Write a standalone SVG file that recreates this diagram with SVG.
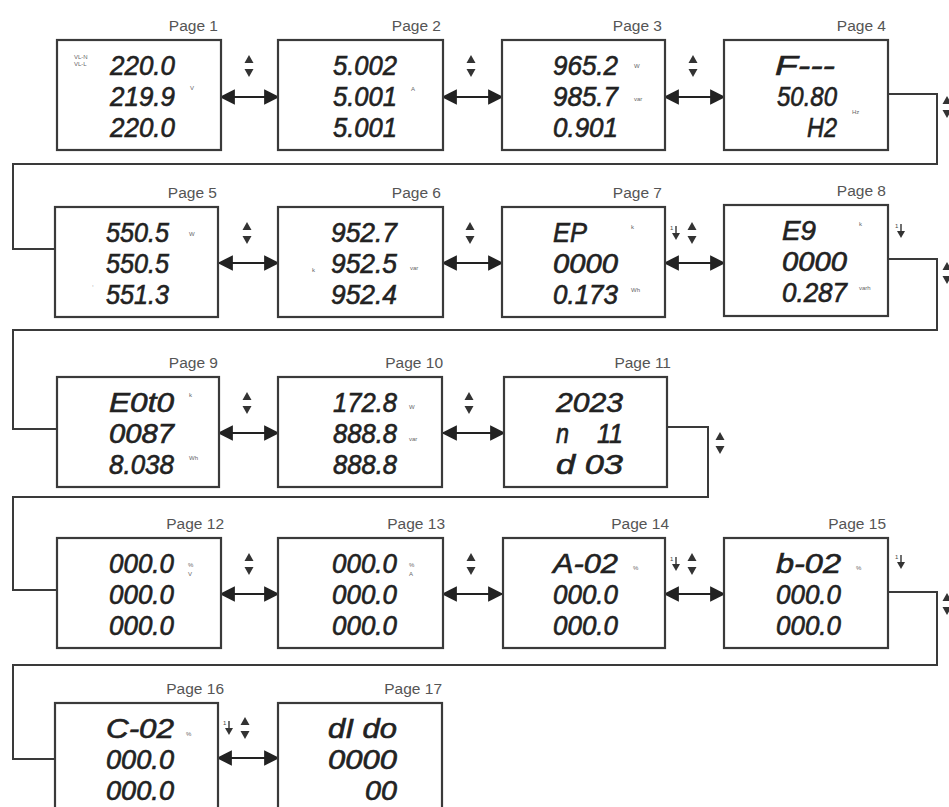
<svg xmlns="http://www.w3.org/2000/svg" width="949" height="807" viewBox="0 0 949 807">
<defs>
<style>
.box{fill:#fff;stroke:#3a3a3a;stroke-width:2.2}
.lbl{font-family:"Liberation Sans",Arial,sans-serif;font-size:15.5px;fill:#555;text-anchor:end}
.lcd{font-family:"Liberation Sans",Arial,sans-serif;font-size:27px;font-style:italic;fill:#222;stroke:#222;stroke-width:0.6}
.u{font-family:"Liberation Sans",Arial,sans-serif;font-size:6px;fill:#666}
.ln{fill:none;stroke:#3a3a3a;stroke-width:2}
.dbl{fill:none;stroke:#222;stroke-width:2.2;marker-start:url(#ah);marker-end:url(#ah)}
.ico{fill:#333}
.one{font-family:"Liberation Sans",Arial,sans-serif;font-size:6px;fill:#444}
</style>
<marker id="ah" viewBox="0 0 10 10" refX="9" refY="5" markerWidth="7.5" markerHeight="7" orient="auto-start-reverse" markerUnits="strokeWidth">
<path d="M0,0 L10,5 L0,10 z" fill="#222"/>
</marker>
<g id="ud"><path d="M0,-11 L4.5,-3 L-4.5,-3 z M0,11 L4.5,3 L-4.5,3 z"/></g>
<g id="dn"><path d="M0,-7 L0,1" stroke="#333" stroke-width="1.4"/><path d="M-4,0 L4,0 L0,7 z"/><text class="one" x="-6" y="-3">1</text></g>
</defs>

<g id="connectors">
<path class="ln" d="M888,94 H937 V164 H13 V249 H56"/>
<path class="ln" d="M888,259 H937 V330 H13 V429 H57"/>
<path class="ln" d="M667,427 H708 V497 H13 V590 H57"/>
<path class="ln" d="M888,592 H937 V665 H13 V759 H56"/>
<line class="dbl" x1="221" y1="97" x2="278" y2="97"/>
<line class="dbl" x1="443" y1="97" x2="502" y2="97"/>
<line class="dbl" x1="665" y1="97" x2="724" y2="97"/>
<line class="dbl" x1="219" y1="263" x2="278" y2="263"/>
<line class="dbl" x1="443" y1="263" x2="502" y2="263"/>
<line class="dbl" x1="665" y1="263" x2="724" y2="263"/>
<line class="dbl" x1="219" y1="433" x2="278" y2="433"/>
<line class="dbl" x1="443" y1="433" x2="504" y2="433"/>
<line class="dbl" x1="221" y1="594" x2="278" y2="594"/>
<line class="dbl" x1="443" y1="594" x2="502" y2="594"/>
<line class="dbl" x1="665" y1="594" x2="724" y2="594"/>
<line class="dbl" x1="218" y1="758" x2="278" y2="758"/>
</g>

<g id="icons" class="ico">
<use href="#ud" x="249" y="66"/><use href="#ud" x="471" y="66"/><use href="#ud" x="693" y="66"/><use href="#ud" x="947" y="107"/>
<use href="#ud" x="247" y="233"/><use href="#ud" x="470" y="233"/><use href="#ud" x="692" y="233"/><use href="#dn" x="676" y="233"/><use href="#dn" x="901" y="231"/><use href="#ud" x="947" y="273"/>
<use href="#ud" x="247" y="403"/><use href="#ud" x="469" y="403"/><use href="#ud" x="720" y="443"/>
<use href="#ud" x="249" y="564"/><use href="#ud" x="471" y="564"/><use href="#ud" x="692" y="564"/><use href="#dn" x="676" y="564"/><use href="#dn" x="901" y="562"/><use href="#ud" x="947" y="604"/>
<use href="#ud" x="245" y="728"/><use href="#dn" x="229" y="728"/>
</g>

<g id="page1"><rect class="box" x="57" y="40" width="164" height="110"/><text class="lbl" x="218" y="31">Page 1</text>
<text class="u"><tspan x="74" y="59">VL-N</tspan><tspan x="74" y="66">VL-L</tspan></text><text class="u" x="190" y="90">V</text>
<text class="lcd"><tspan x="110" y="75" textLength="65" lengthAdjust="spacingAndGlyphs">220.0</tspan><tspan x="110" y="106" textLength="65" lengthAdjust="spacingAndGlyphs">219.9</tspan><tspan x="110" y="137" textLength="65" lengthAdjust="spacingAndGlyphs">220.0</tspan></text></g>

<g id="page2"><rect class="box" x="278" y="40" width="165" height="110"/><text class="lbl" x="441" y="31">Page 2</text>
<text class="u" x="411" y="91">A</text>
<text class="lcd"><tspan x="333" y="75" textLength="64" lengthAdjust="spacingAndGlyphs">5.002</tspan><tspan x="333" y="106" textLength="64" lengthAdjust="spacingAndGlyphs">5.001</tspan><tspan x="333" y="137" textLength="64" lengthAdjust="spacingAndGlyphs">5.001</tspan></text></g>

<g id="page3"><rect class="box" x="502" y="40" width="163" height="110"/><text class="lbl" x="662" y="31">Page 3</text>
<text class="u" x="634" y="68">W</text><text class="u" x="634" y="101">var</text>
<text class="lcd"><tspan x="553" y="75" textLength="65" lengthAdjust="spacingAndGlyphs">965.2</tspan><tspan x="553" y="106" textLength="65" lengthAdjust="spacingAndGlyphs">985.7</tspan><tspan x="553" y="137" textLength="65" lengthAdjust="spacingAndGlyphs">0.901</tspan></text></g>

<g id="page4"><rect class="box" x="724" y="40" width="164" height="110"/><text class="lbl" x="886" y="31">Page 4</text>
<text class="u" x="852" y="114">Hz</text>
<text class="lcd"><tspan x="775" y="75" textLength="60" lengthAdjust="spacingAndGlyphs">F---</tspan><tspan x="777" y="106" textLength="60" lengthAdjust="spacingAndGlyphs">50.80</tspan><tspan x="807" y="137" textLength="30" lengthAdjust="spacingAndGlyphs">H2</tspan></text></g>

<g id="page5"><rect class="box" x="55" y="207" width="163" height="110"/><text class="lbl" x="217" y="198">Page 5</text>
<text class="u" x="189" y="236">W</text><text class="u" x="92" y="286">,</text>
<text class="lcd"><tspan x="106" y="242" textLength="63" lengthAdjust="spacingAndGlyphs">550.5</tspan><tspan x="106" y="273" textLength="63" lengthAdjust="spacingAndGlyphs">550.5</tspan><tspan x="106" y="304" textLength="63" lengthAdjust="spacingAndGlyphs">551.3</tspan></text></g>

<g id="page6"><rect class="box" x="278" y="207" width="165" height="110"/><text class="lbl" x="441" y="198">Page 6</text>
<text class="u" x="410" y="270">var</text><text class="u" x="312" y="272">k</text>
<text class="lcd"><tspan x="331" y="242" textLength="66" lengthAdjust="spacingAndGlyphs">952.7</tspan><tspan x="331" y="273" textLength="66" lengthAdjust="spacingAndGlyphs">952.5</tspan><tspan x="331" y="304" textLength="66" lengthAdjust="spacingAndGlyphs">952.4</tspan></text></g>

<g id="page7"><rect class="box" x="502" y="207" width="163" height="110"/><text class="lbl" x="662" y="198">Page 7</text>
<text class="u" x="631" y="229">k</text><text class="u" x="631" y="292">Wh</text>
<text class="lcd"><tspan x="553" y="242" textLength="34" lengthAdjust="spacingAndGlyphs">EP</tspan><tspan x="553" y="273" textLength="65" lengthAdjust="spacingAndGlyphs">0000</tspan><tspan x="553" y="304" textLength="65" lengthAdjust="spacingAndGlyphs">0.173</tspan></text></g>

<g id="page8"><rect class="box" x="724" y="205" width="164" height="111"/><text class="lbl" x="886" y="196">Page 8</text>
<text class="u" x="859" y="226">k</text><text class="u" x="859" y="290">varh</text>
<text class="lcd"><tspan x="782" y="240" textLength="34" lengthAdjust="spacingAndGlyphs">E9</tspan><tspan x="782" y="271" textLength="65" lengthAdjust="spacingAndGlyphs">0000</tspan><tspan x="782" y="302" textLength="65" lengthAdjust="spacingAndGlyphs">0.287</tspan></text></g>

<g id="page9"><rect class="box" x="57" y="377" width="162" height="110"/><text class="lbl" x="218" y="368">Page 9</text>
<text class="u" x="189" y="397">k</text><text class="u" x="189" y="460">Wh</text>
<text class="lcd"><tspan x="109" y="412" textLength="65" lengthAdjust="spacingAndGlyphs">E0t0</tspan><tspan x="109" y="443" textLength="65" lengthAdjust="spacingAndGlyphs">0087</tspan><tspan x="109" y="474" textLength="65" lengthAdjust="spacingAndGlyphs">8.038</tspan></text></g>

<g id="page10"><rect class="box" x="278" y="377" width="164" height="110"/><text class="lbl" x="443" y="368">Page 10</text>
<text class="u" x="409" y="409">W</text><text class="u" x="409" y="441">var</text>
<text class="lcd"><tspan x="333" y="412" textLength="64" lengthAdjust="spacingAndGlyphs">172.8</tspan><tspan x="333" y="443" textLength="64" lengthAdjust="spacingAndGlyphs">888.8</tspan><tspan x="333" y="474" textLength="64" lengthAdjust="spacingAndGlyphs">888.8</tspan></text></g>

<g id="page11"><rect class="box" x="504" y="377" width="163" height="110"/><text class="lbl" x="671" y="368">Page 11</text>
<text class="lcd"><tspan x="556" y="412" textLength="67" lengthAdjust="spacingAndGlyphs">2023</tspan><tspan x="556" y="443" textLength="13" lengthAdjust="spacingAndGlyphs">n</tspan><tspan x="597" y="443" textLength="26" lengthAdjust="spacingAndGlyphs">11</tspan><tspan x="556" y="474" textLength="67" lengthAdjust="spacingAndGlyphs">d 03</tspan></text></g>

<g id="page12"><rect class="box" x="57" y="538" width="164" height="110"/><text class="lbl" x="224" y="529">Page 12</text>
<text class="u"><tspan x="188" y="567">%</tspan><tspan x="188" y="576">V</tspan></text>
<text class="lcd"><tspan x="109" y="573" textLength="65" lengthAdjust="spacingAndGlyphs">000.0</tspan><tspan x="109" y="604" textLength="65" lengthAdjust="spacingAndGlyphs">000.0</tspan><tspan x="109" y="635" textLength="65" lengthAdjust="spacingAndGlyphs">000.0</tspan></text></g>

<g id="page13"><rect class="box" x="278" y="538" width="165" height="110"/><text class="lbl" x="445" y="529">Page 13</text>
<text class="u"><tspan x="409" y="567">%</tspan><tspan x="409" y="576">A</tspan></text>
<text class="lcd"><tspan x="332" y="573" textLength="65" lengthAdjust="spacingAndGlyphs">000.0</tspan><tspan x="332" y="604" textLength="65" lengthAdjust="spacingAndGlyphs">000.0</tspan><tspan x="332" y="635" textLength="65" lengthAdjust="spacingAndGlyphs">000.0</tspan></text></g>

<g id="page14"><rect class="box" x="503" y="538" width="162" height="110"/><text class="lbl" x="669" y="529">Page 14</text>
<text class="u" x="633" y="570">%</text>
<text class="lcd"><tspan x="553" y="573" textLength="65" lengthAdjust="spacingAndGlyphs">A-02</tspan><tspan x="553" y="604" textLength="65" lengthAdjust="spacingAndGlyphs">000.0</tspan><tspan x="553" y="635" textLength="65" lengthAdjust="spacingAndGlyphs">000.0</tspan></text></g>

<g id="page15"><rect class="box" x="724" y="538" width="164" height="110"/><text class="lbl" x="886" y="529">Page 15</text>
<text class="u" x="856" y="570">%</text>
<text class="lcd"><tspan x="776" y="573" textLength="65" lengthAdjust="spacingAndGlyphs">b-02</tspan><tspan x="776" y="604" textLength="65" lengthAdjust="spacingAndGlyphs">000.0</tspan><tspan x="776" y="635" textLength="65" lengthAdjust="spacingAndGlyphs">000.0</tspan></text></g>

<g id="page16"><rect class="box" x="55" y="703" width="163" height="110"/><text class="lbl" x="224" y="694">Page 16</text>
<text class="u" x="186" y="736">%</text>
<text class="lcd"><tspan x="106" y="738" textLength="68" lengthAdjust="spacingAndGlyphs">C-02</tspan><tspan x="106" y="769" textLength="68" lengthAdjust="spacingAndGlyphs">000.0</tspan><tspan x="106" y="800" textLength="68" lengthAdjust="spacingAndGlyphs">000.0</tspan></text></g>

<g id="page17"><rect class="box" x="278" y="703" width="164" height="110"/><text class="lbl" x="442" y="694">Page 17</text>
<text class="lcd"><tspan x="328" y="738" textLength="69" lengthAdjust="spacingAndGlyphs">dI do</tspan><tspan x="328" y="769" textLength="69" lengthAdjust="spacingAndGlyphs">0000</tspan><tspan x="365" y="800" textLength="32" lengthAdjust="spacingAndGlyphs">00</tspan></text></g>
</svg>
